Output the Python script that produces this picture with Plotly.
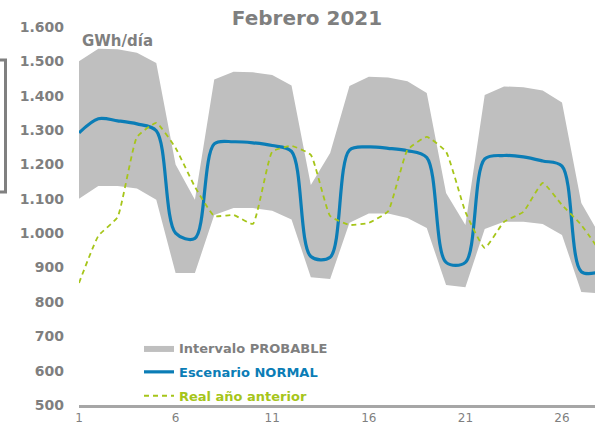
import plotly.graph_objects as go

days = list(range(1, 29))
upper = [1500, 1537, 1535, 1525, 1495, 1200, 1097, 1447, 1470, 1468, 1460, 1430, 1140, 1233,
         1428, 1455, 1453, 1442, 1408, 1117, 1024, 1402, 1427, 1425, 1415, 1380, 1088, 990]
lower = [1100, 1137, 1137, 1130, 1097, 884, 884, 1053, 1073, 1073, 1065, 1040, 872, 867,
         1030, 1057, 1057, 1044, 1015, 849, 843, 1012, 1033, 1033, 1027, 995, 829, 825]
normal = [1292, 1333, 1327, 1318, 1298, 1000, 985, 1260, 1266, 1263, 1255, 1238, 932, 930,
          1242, 1251, 1247, 1240, 1220, 915, 915, 1216, 1226, 1222, 1210, 1195, 888, 888]
real_prev = [855, 992, 1047, 1280, 1321, 1248, 1135, 1050, 1053, 1027, 1237, 1254, 1228, 1050,
             1024, 1030, 1064, 1242, 1280, 1237, 1062, 957, 1033, 1062, 1146, 1082, 1024, 945]

y_tickvals = [500, 600, 700, 800, 900, 1000, 1100, 1200, 1300, 1400, 1500, 1600]
y_ticktext = ["500", "600", "700", "800", "900", "1.000", "1.100", "1.200", "1.300", "1.400", "1.500", "1.600"]
x_tickvals = [1, 6, 11, 16, 21, 26]

GRAY_TXT = "#7F7F7F"
BAND = "#BFBFBF"
BLUE = "#0B7DB6"
GREEN = "#A6C51A"
FONT = "DejaVu Sans"

fig = go.Figure()
fig.add_trace(go.Scatter(x=days, y=lower, mode="lines", line=dict(width=0, color=BAND),
                         showlegend=False, hoverinfo="skip", legendgroup="a"))
fig.add_trace(go.Scatter(x=days, y=upper, mode="lines", line=dict(width=0, color=BAND),
                         fill="tonexty", fillcolor=BAND, legendgroup="a",
                         name=f"<b><span style='color:{GRAY_TXT}'>Intervalo PROBABLE</span></b>"))
fig.add_trace(go.Scatter(x=days, y=normal, mode="lines", legendgroup="b",
                         line=dict(color=BLUE, width=3.2, shape="spline", smoothing=0.9),
                         name=f"<b><span style='color:{BLUE}'>Escenario NORMAL</span></b>"))
fig.add_trace(go.Scatter(x=days, y=real_prev, mode="lines", legendgroup="c",
                         line=dict(color=GREEN, width=1.8, dash="5px,4px", shape="spline", smoothing=0.4),
                         name=f"<b><span style='color:{GREEN}'>Real año anterior</span></b>"))

L, T, B = 79, 27, 22
W, H = 595, 427
pw, ph = W - L, H - T - B

def px_x(p):
    return (p - L) / pw

def px_y(p):
    return (H - B - p) / ph

fig.update_layout(
    width=W, height=H,
    margin=dict(l=L, r=0, t=T, b=B, autoexpand=False),
    paper_bgcolor="white", plot_bgcolor="white",
    font=dict(family=FONT, color=GRAY_TXT),
    title=dict(text="<b>Febrero 2021</b>", x=px_x(307), xref="paper", xanchor="center",
               y=1 - 18 / H, yref="container", yanchor="middle",
               font=dict(size=20, color=GRAY_TXT, family=FONT)),
    xaxis=dict(range=[1, 1 + pw / 19.32], tickvals=x_tickvals, showgrid=False, zeroline=False,
               showline=True, linecolor="#A6A6A6", linewidth=3, ticks="",
               tickfont=dict(size=12, color=GRAY_TXT, family=FONT)),
    yaxis=dict(range=[500, 1600], tickvals=y_tickvals,
               ticktext=[f"<b>{t}</b>" for t in y_ticktext], showgrid=False,
               zeroline=False, showline=False, ticks="", ticklabelstandoff=14,
               tickfont=dict(size=14, color=GRAY_TXT, family=FONT)),
    legend=dict(x=px_x(139), y=px_y(333), xanchor="left", yanchor="top",
                bgcolor="rgba(0,0,0,0)", font=dict(size=13, family=FONT),
                tracegroupgap=4, itemwidth=30),
    annotations=[dict(text="<b>GWh/día</b>", x=px_x(80), y=px_y(41), xref="paper", yref="paper",
                      xanchor="left", yanchor="middle", showarrow=False,
                      font=dict(size=15, color=GRAY_TXT, family=FONT))],
    shapes=[dict(type="path", xref="paper", yref="paper",
                 path=f"M {px_x(0)},{px_y(60)} L {px_x(5.5)},{px_y(60)} L {px_x(5.5)},{px_y(192)} L {px_x(0)},{px_y(192)}",
                 line=dict(color="#808080", width=3))],
    showlegend=True,
)

fig.write_html("out.html", config={"displayModeBar": False},
               post_script="document.body.style.margin='0';document.body.style.overflow='hidden';")
